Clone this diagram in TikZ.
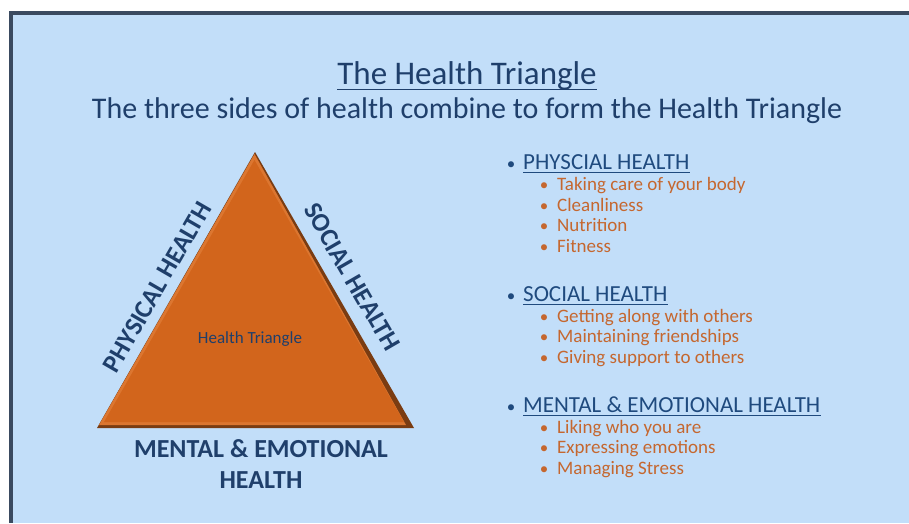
\documentclass[tikz,border=0pt]{standalone}
\usepackage{fontspec}
\setmainfont{Carlito}
\definecolor{bgblue}{HTML}{C2DEF9}
\definecolor{frame}{HTML}{3A4A60}
\definecolor{navy}{HTML}{1F3F6B}
\definecolor{headblue}{HTML}{1F4A7E}
\definecolor{orangetxt}{HTML}{C5672F}
\definecolor{triorange}{HTML}{D2651C}
\definecolor{tridark}{HTML}{7A3C12}
\definecolor{trilight}{HTML}{DC7630}
\tikzset{
  sidelabel/.style={font=\fontsize{26}{31}\selectfont\bfseries, text=navy, inner sep=0pt},
  head/.style={font=\fontsize{23}{25}\selectfont, text=headblue, anchor=base west, inner sep=0pt},
  item/.style={font=\fontsize{19}{21}\selectfont, text=orangetxt, anchor=base west, inner sep=0pt},
  dot/.style={font=\fontsize{17}{19}\selectfont, inner sep=0pt, anchor=base},
  uline/.style={draw=headblue, line width=1pt}
}
\begin{document}
\begin{tikzpicture}[x=1pt,y={(0pt,-1pt)}]
\useasboundingbox (0,0) rectangle (909,523);
\fill[white] (0,0) rectangle (909,523);
\fill[frame] (9,11) rectangle (909,523);
\fill[bgblue] (13,15) rectangle (909,523);
% title
\node[font=\fontsize{33}{36}\selectfont, text=navy, inner sep=0pt, anchor=base] (title) at (467,84) {The Health Triangle};
\draw[navy, line width=1pt] ([yshift=-5.5pt]title.base west) -- ([yshift=-5.5pt]title.base east);
\node[font=\fontsize{30}{32}\selectfont, text=navy, inner sep=0pt, anchor=base] (subtitle) at (467,118) {The three sides of health combine to form the Health Triangle};
% triangle
\coordinate (apex) at (255,152);
\coordinate (bl) at (97,428);
\coordinate (br) at (414,428);
\fill[tridark] (apex) -- (bl) -- (br) -- cycle;
\fill[trilight] (254.5,154) -- (99,425) -- (406,425) -- cycle;
\fill[triorange] (254.5,160) -- (104,422) -- (404,422) -- cycle;
\node[font=\fontsize{17}{19}\selectfont, text=navy, inner sep=0pt] (center) at (250,339) {Health Triangle};
\node[sidelabel, rotate=60] (phys) at (157,287) {PHYSICAL HEALTH};
\node[sidelabel, rotate=-60] (soc) at (352,277) {SOCIAL HEALTH};
\node[sidelabel, align=center] (mental) at (261,464) {MENTAL \& EMOTIONAL\\HEALTH};
% list
\node[head] (h1) at (523,169) {PHYSCIAL HEALTH};
\draw[uline] ([yshift=-3pt]h1.base west) -- ([yshift=-3pt]h1.base east);
\node[dot, text=headblue] (d1) at (511,169) {•};
\node[item] (i11) at (557,190) {Taking care of your body};
\node[item] (i12) at (557,211) {Cleanliness};
\node[item] (i13) at (557,231.5) {Nutrition};
\node[item] (i14) at (557,252) {Fitness};
\node[dot, text=orangetxt] (e11) at (544,190) {•};
\node[dot, text=orangetxt] (e12) at (544,211) {•};
\node[dot, text=orangetxt] (e13) at (544,231.5) {•};
\node[dot, text=orangetxt] (e14) at (544,252) {•};
\node[head] (h2) at (523,301.5) {SOCIAL HEALTH};
\draw[uline] ([yshift=-3pt]h2.base west) -- ([yshift=-3pt]h2.base east);
\node[dot, text=headblue] (d2) at (511,301.5) {•};
\node[item] (i21) at (557,322) {Getting along with others};
\node[item] (i22) at (557,342.5) {Maintaining friendships};
\node[item] (i23) at (557,363) {Giving support to others};
\node[dot, text=orangetxt] (e21) at (544,322) {•};
\node[dot, text=orangetxt] (e22) at (544,342.5) {•};
\node[dot, text=orangetxt] (e23) at (544,363) {•};
\node[head] (h3) at (523,412) {MENTAL \& EMOTIONAL HEALTH};
\draw[uline] ([yshift=-3pt]h3.base west) -- ([yshift=-3pt]h3.base east);
\node[dot, text=headblue] (d3) at (511,412) {•};
\node[item] (i31) at (557,433) {Liking who you are};
\node[item] (i32) at (557,453.5) {Expressing emotions};
\node[item] (i33) at (557,474) {Managing Stress};
\node[dot, text=orangetxt] (e31) at (544,433) {•};
\node[dot, text=orangetxt] (e32) at (544,453.5) {•};
\node[dot, text=orangetxt] (e33) at (544,474) {•};
\end{tikzpicture}
\end{document}
